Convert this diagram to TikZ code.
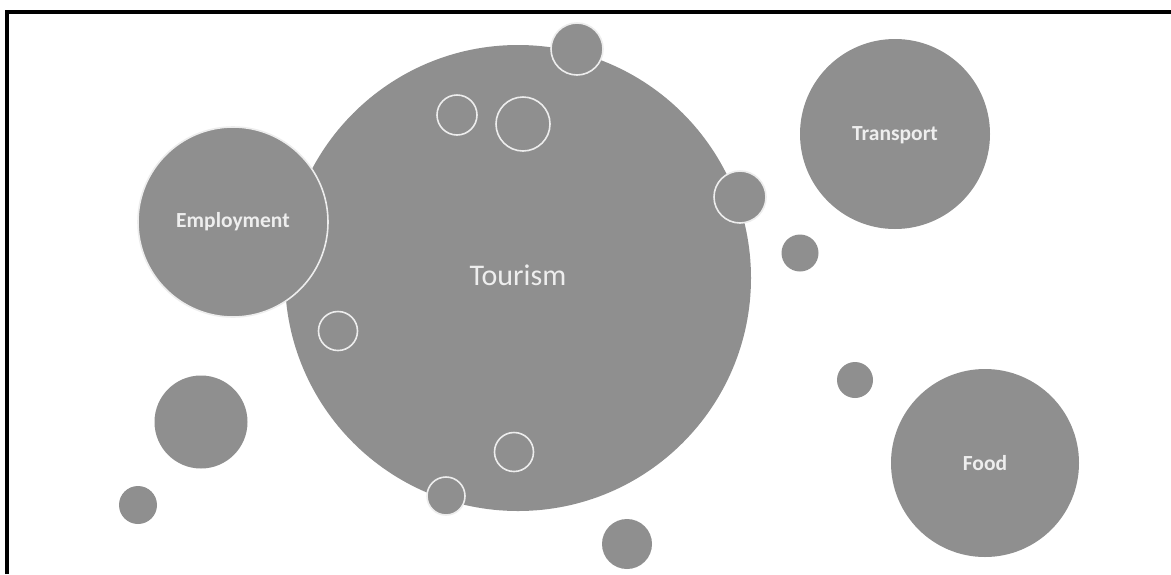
\documentclass[tikz,border=0pt]{standalone}
\usepackage{fontspec}
\setmainfont{Carlito}
\definecolor{bub}{HTML}{8F8F8F}
\definecolor{ring}{HTML}{EDEDED}
\definecolor{lbl}{HTML}{EEEEEE}
\begin{document}
\begin{tikzpicture}[x=1pt,y=-1pt,
  bubble/.style={circle,fill=bub,inner sep=0pt,minimum size=#1},
  rimbubble/.style={circle,fill=bub,draw=ring,line width=1.6pt,inner sep=0pt,minimum size=#1},
  hollow/.style={circle,draw=ring,line width=1.6pt,inner sep=0pt,minimum size=#1},
  biglbl/.style={text=lbl,font=\fontsize{30}{35}\selectfont},
  lbl/.style={text=lbl,font=\bfseries\fontsize{21.5}{25}\selectfont}]
\useasboundingbox (0,0) rectangle (1171,574);
\fill[white] (0,0) rectangle (1171,574);
% frame (left and top only)
\draw[line width=4pt] (7,574) -- (7,12) -- (1171,12);
% main bubble
\node[bubble=466pt] (tour) at (518,278) {};
\node[biglbl] at ([yshift=3pt]tour.center) {Tourism};
% bubbles overlapping the main one
\node[rimbubble=190pt] (emp) at (233,222) {};
\node[lbl] at (emp.center) {Employment};
\node[rimbubble=52pt] (t1) at (577,49) {};
\node[rimbubble=52pt] (t2) at (740,197) {};
\node[rimbubble=38pt] (t3) at (446,496) {};
\node[hollow=40pt] (h1) at (457,115) {};
\node[hollow=54pt] (h2) at (523,124) {};
\node[hollow=39pt] (h3) at (338,331) {};
\node[hollow=39pt] (h4) at (514,452) {};
% free bubbles
\node[bubble=190pt] (trans) at (895,134) {};
\node[lbl] at ([yshift=-1pt]trans.center) {Transport};
\node[bubble=188pt] (food) at (985,463) {};
\node[lbl] at (food.center) {Food};
\node[bubble=37pt] (s1) at (800,253) {};
\node[bubble=36pt] (s2) at (855,380) {};
\node[bubble=93pt] (s3) at (201,422) {};
\node[bubble=38pt] (s4) at (138,505) {};
\node[bubble=50pt] (s5) at (627,544) {};
\end{tikzpicture}
\end{document}
